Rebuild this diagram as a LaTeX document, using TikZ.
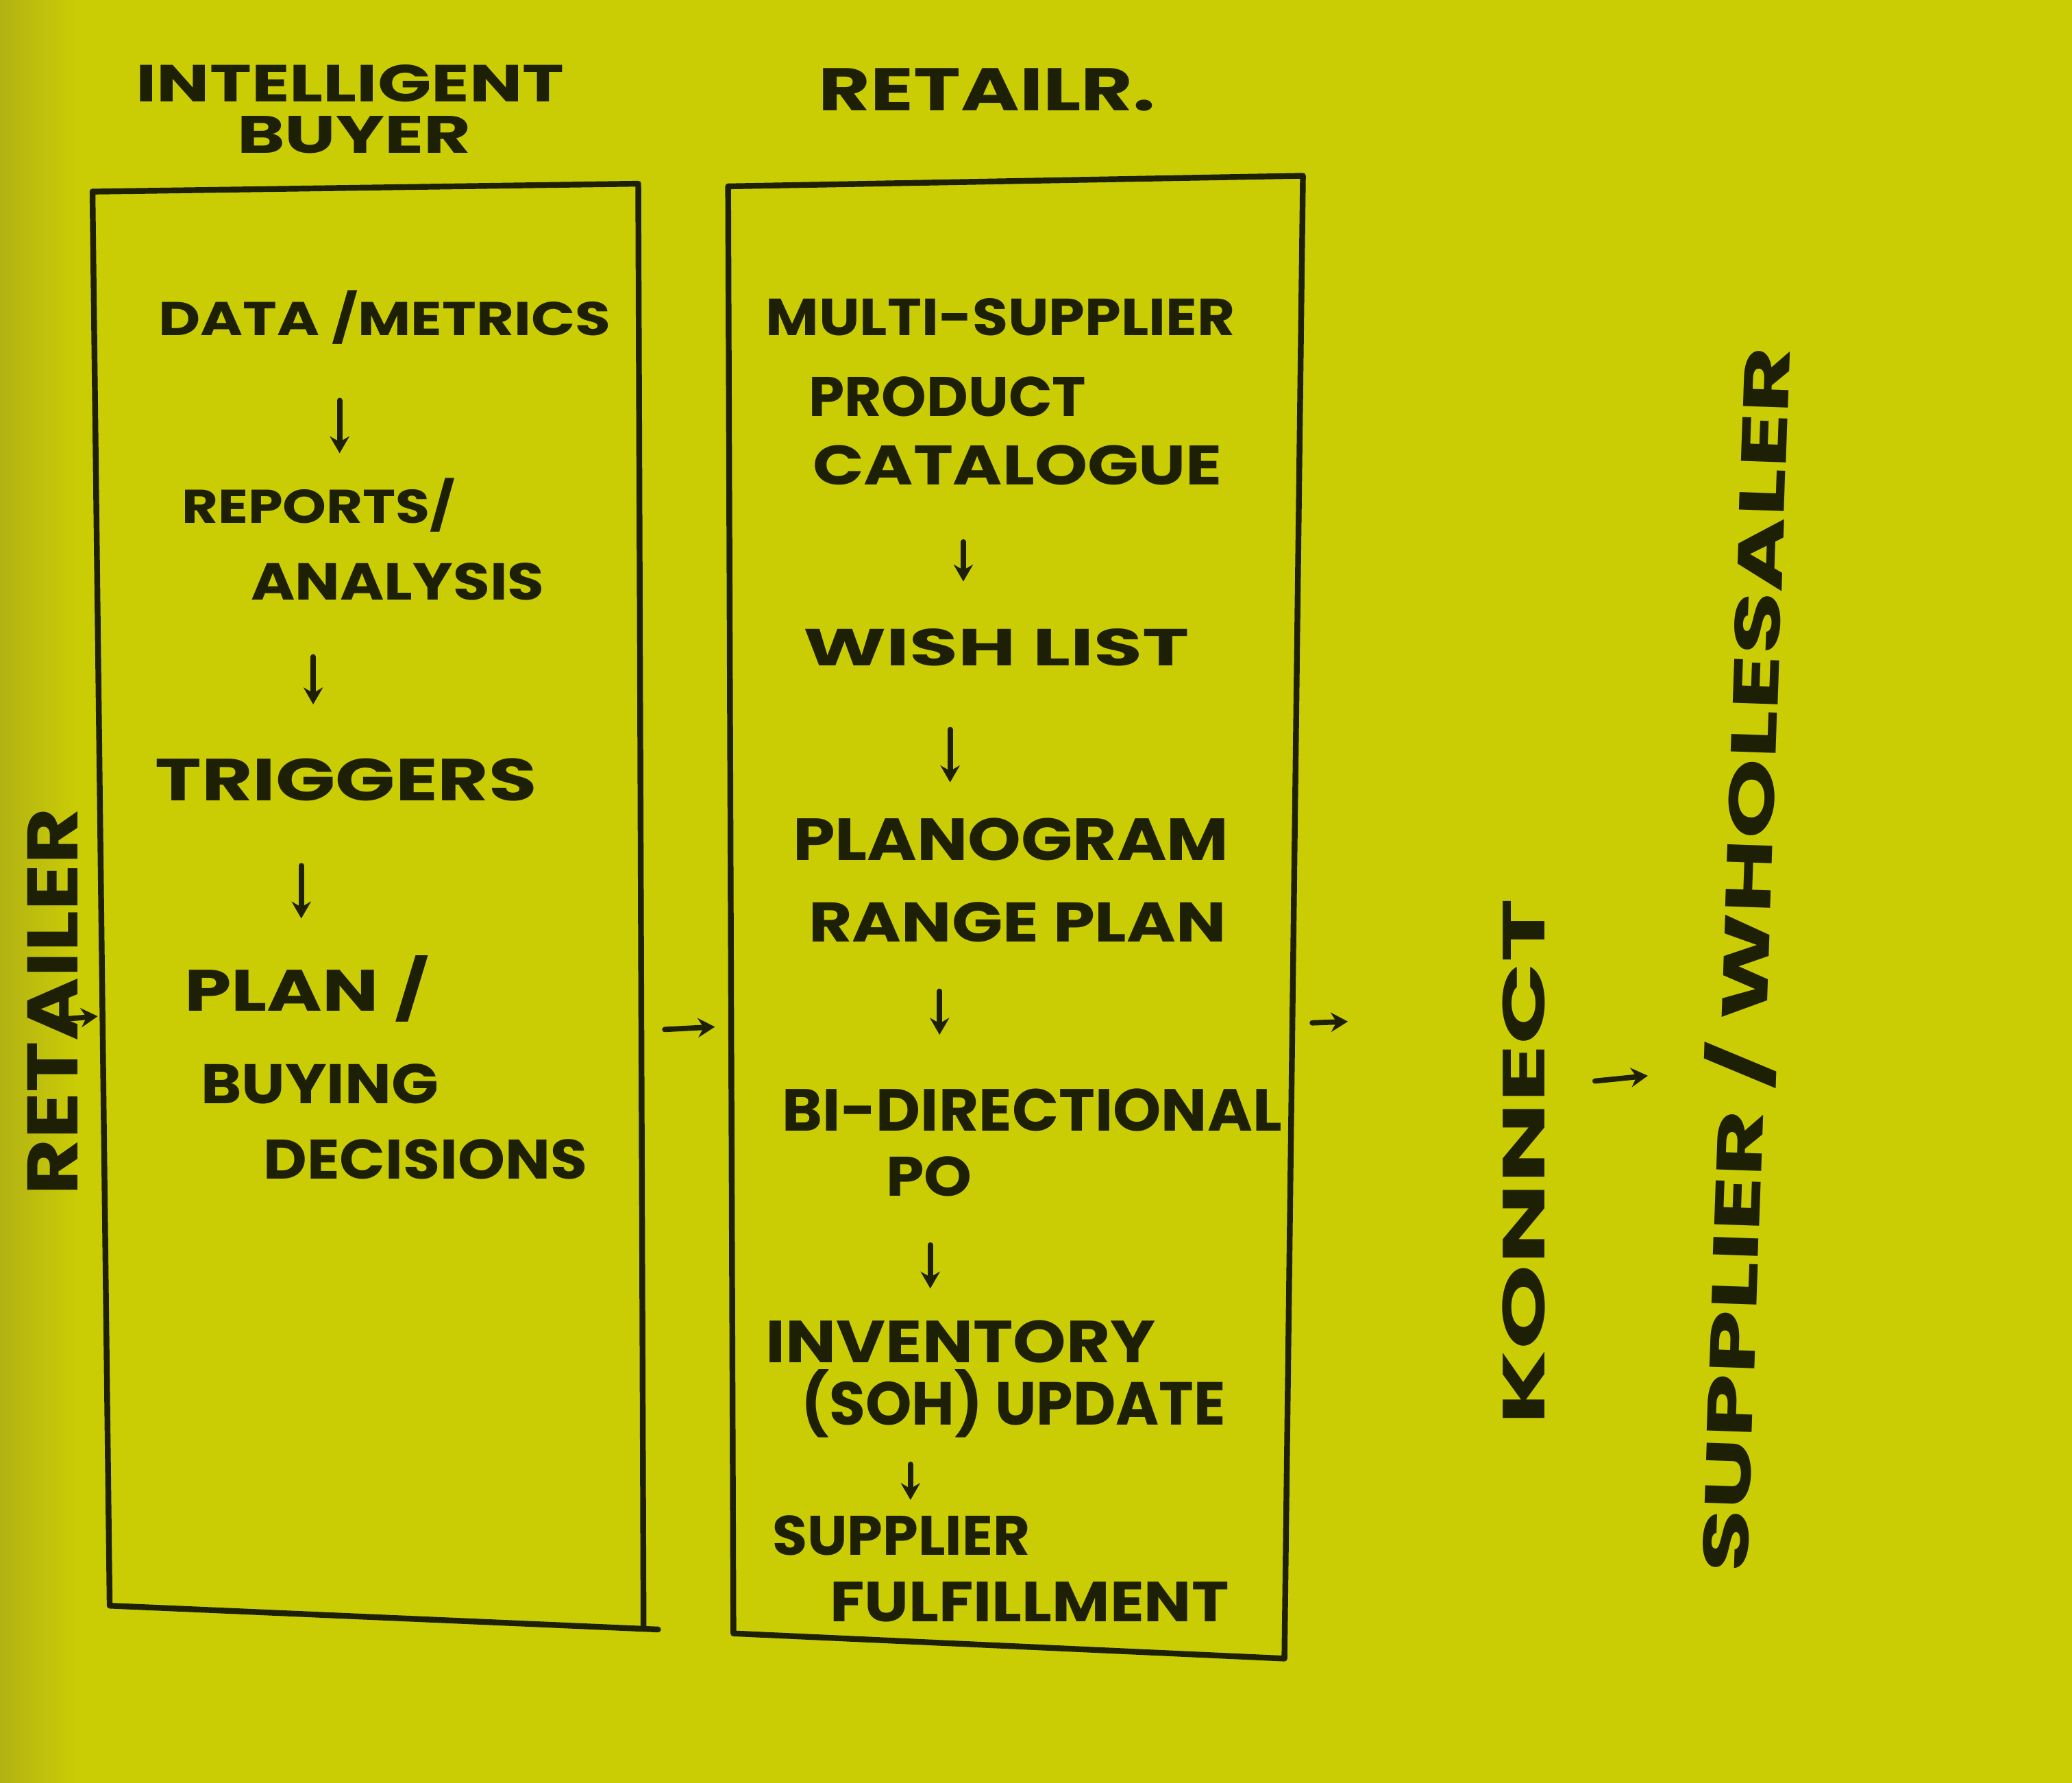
\documentclass[tikz,border=0pt]{standalone}
\usepackage{fontspec}
\setmainfont{Poppins}
\usetikzlibrary{arrows.meta}
\newlength\sx \setlength\sx{0.19286mm}
\newcommand\tw[3]{\resizebox{#1\sx}{#2\sx}{#3}}
\definecolor{paper}{RGB}{203,205,4}
\definecolor{paperD}{RGB}{178,178,20}
\definecolor{ink}{RGB}{30,32,6}
\begin{document}
\begin{tikzpicture}[x=0.19286mm,y=-0.19286mm,
  txt/.style={inner sep=0pt, text=ink, font=\bfseries},
  arr/.style={draw=ink, line width=2.2pt, line cap=round, -{Stealth[length=7pt,width=8pt]}},
  boxline/.style={draw=ink, line width=2.4pt, line cap=round, line join=round}]
\fill[paper] (0,0) rectangle (1568,1349);
\shade[left color=paperD, right color=paper] (0,0) rectangle (60,1349);
\useasboundingbox (0,0) rectangle (1568,1349);

% boxes
\draw[boxline] (70,145) -- (483,139) -- (487,1232);
\draw[boxline] (70,145) -- (83,1215) -- (498,1233);
\draw[boxline] (551,141) -- (986,133) -- (972,1255) -- (555,1236) -- cycle;

% headers
\node[txt] (ib1) at (265,63) {\tw{324}{28}{INTELLIGENT}};
\node[txt] (ib2) at (268,102) {\tw{177}{28}{BUYER}};
\node[txt] (rt) at (747,68) {\tw{255}{32}{RETAILR.}};

% left column
\node[txt] (l1) at (291,240) {\tw{342}{34}{DATA /METRICS}};
\node[txt] (l2) at (241,382) {\tw{207}{34}{REPORTS/}};
\node[txt] (l3) at (301,440) {\tw{222}{28}{ANALYSIS}};
\node[txt] (l4) at (262,590) {\tw{289}{32}{TRIGGERS}};
\node[txt] (l5) at (232,748) {\tw{185}{42}{PLAN /}};
\node[txt] (l6) at (242,820) {\tw{180}{30}{BUYING}};
\node[txt] (l7) at (322,877) {\tw{245}{30}{DECISIONS}};

% right column
\node[txt] (r1) at (757,240) {\tw{355}{28}{MULTI-SUPPLIER}};
\node[txt] (r2) at (717,300) {\tw{210}{30}{PRODUCT}};
\node[txt] (r3) at (770,352) {\tw{310}{30}{CATALOGUE}};
\node[txt] (r4) at (754,490) {\tw{292}{28}{WISH LIST}};
\node[txt] (r5) at (765,635) {\tw{330}{32}{PLANOGRAM}};
\node[txt] (r6) at (770,698) {\tw{316}{30}{RANGE PLAN}};
\node[txt] (r7) at (781,840) {\tw{378}{32}{BI-DIRECTIONAL}};
\node[txt] (r8) at (703,890) {\tw{65}{30}{PO}};
\node[txt] (r9) at (727,1015) {\tw{295}{32}{INVENTORY}};
\node[txt] (r10) at (767,1062) {\tw{321}{42}{(SOH) UPDATE}};
\node[txt] (r11) at (682,1162) {\tw{195}{30}{SUPPLIER}};
\node[txt] (r12) at (779,1212) {\tw{302}{30}{FULFILLMENT}};

% vertical labels
\node[txt, rotate=90] (ret) at (40,758) {\tw{293}{38}{RETAILER}};
\node[txt, rotate=90] (kon) at (1153,879) {\tw{398}{32}{KONNECT}};
\node[txt, rotate=88] (sup) at (1320,726) {\tw{928}{46}{SUPPLIER / WHOLESALER}};

% arrow coordinates
\coordinate (a1s) at (257,303); \coordinate (a1e) at (257,343);
\coordinate (a2s) at (237,497); \coordinate (a2e) at (237,533);
\coordinate (a3s) at (228,655); \coordinate (a3e) at (228,695);
\coordinate (b1s) at (729,410); \coordinate (b1e) at (729,440);
\coordinate (b2s) at (719,552); \coordinate (b2e) at (719,592);
\coordinate (b3s) at (711,750); \coordinate (b3e) at (711,783);
\coordinate (b4s) at (704,942); \coordinate (b4e) at (704,975);
\coordinate (b5s) at (689,1108); \coordinate (b5e) at (689,1135);
\coordinate (h1s) at (503,779); \coordinate (h1e) at (541,777);
\coordinate (h2s) at (993,774); \coordinate (h2e) at (1020,773);
\coordinate (h3s) at (1207,818); \coordinate (h3e) at (1247,814);
\coordinate (h0s) at (50,771); \coordinate (h0e) at (74,769);

\foreach \p in {a1,a2,a3,b1,b2,b3,b4,b5,h0,h1,h2,h3}
  \draw[arr] (\p s) -- (\p e);
\end{tikzpicture}
\end{document}
